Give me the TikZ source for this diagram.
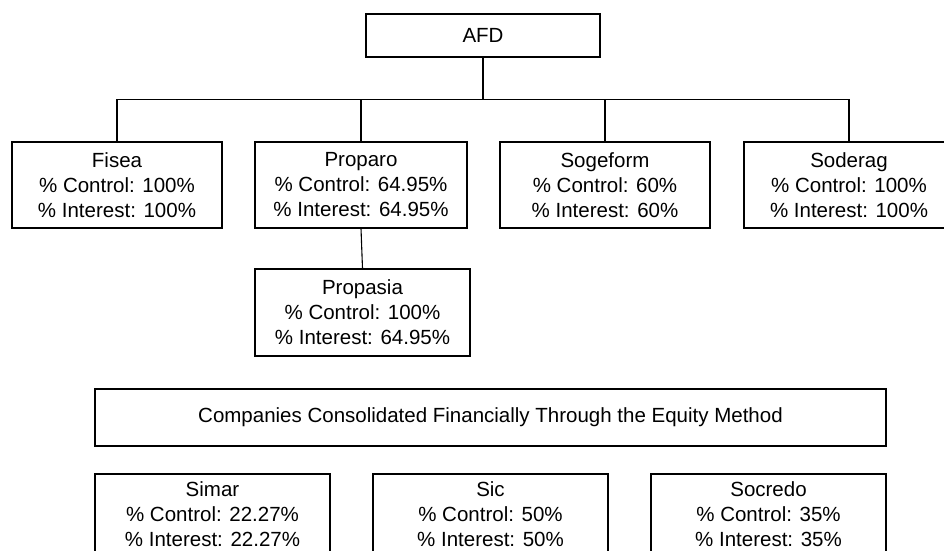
\documentclass[tikz,border=0pt]{standalone}
\usepackage{fontspec}
\setmainfont{Liberation Sans}
\tikzset{
  x=1pt, y=-1pt,
  orgbox/.style={draw, line width=1.1pt, inner sep=0pt, align=center,
    font=\fontsize{20.5}{25}\selectfont},
  topbox/.style={orgbox, minimum width=210pt, minimum height=86pt},
  eqbox/.style={orgbox, minimum width=235pt, minimum height=80pt},
  link/.style={line width=1.1pt}
}
\begin{document}
\begin{tikzpicture}
\clip (0,0) rectangle (944,550);
\fill[white] (0,0) rectangle (944,550);
\node[orgbox, minimum width=234pt, minimum height=43pt] (afd) at (483,35.5) {AFD};
\node[topbox] (fisea) at (117,185) {Fisea\\\% Control: 100\%\\\% Interest: 100\%};
\node[topbox, minimum width=212pt] (proparo) at (361,185) {Proparo\\\% Control: 64.95\%\\\% Interest: 64.95\%};
\node[topbox] (sogeform) at (605,185) {Sogeform\\\% Control: 60\%\\\% Interest: 60\%};
\node[topbox] (soderag) at (849,185) {Soderag\\\% Control: 100\%\\\% Interest: 100\%};
\node[topbox, minimum width=215pt, minimum height=87pt] (propasia) at (362.5,312.5) {Propasia\\\% Control: 100\%\\\% Interest: 64.95\%};
\node[orgbox, minimum width=791pt, minimum height=57pt] (equity) at (490.5,417.5) {Companies Consolidated Financially Through the Equity Method};
\node[eqbox] (simar) at (212.5,514) {Simar\\\% Control: 22.27\%\\\% Interest: 22.27\%};
\node[eqbox] (sic) at (490.5,514) {Sic\\\% Control: 50\%\\\% Interest: 50\%};
\node[eqbox] (socredo) at (768.5,514) {Socredo\\\% Control: 35\%\\\% Interest: 35\%};
\coordinate (bar) at (483,99.5);
\draw[link] (afd.south) -- (bar);
\draw[link] (fisea.north) -- (fisea.north |- bar) -- (soderag.north |- bar) -- (soderag.north);
\draw[link] (proparo.north) -- (proparo.north |- bar);
\draw[link] (sogeform.north) -- (sogeform.north |- bar);
\draw[link] (proparo.south) -- (propasia.north);
\end{tikzpicture}
\end{document}
